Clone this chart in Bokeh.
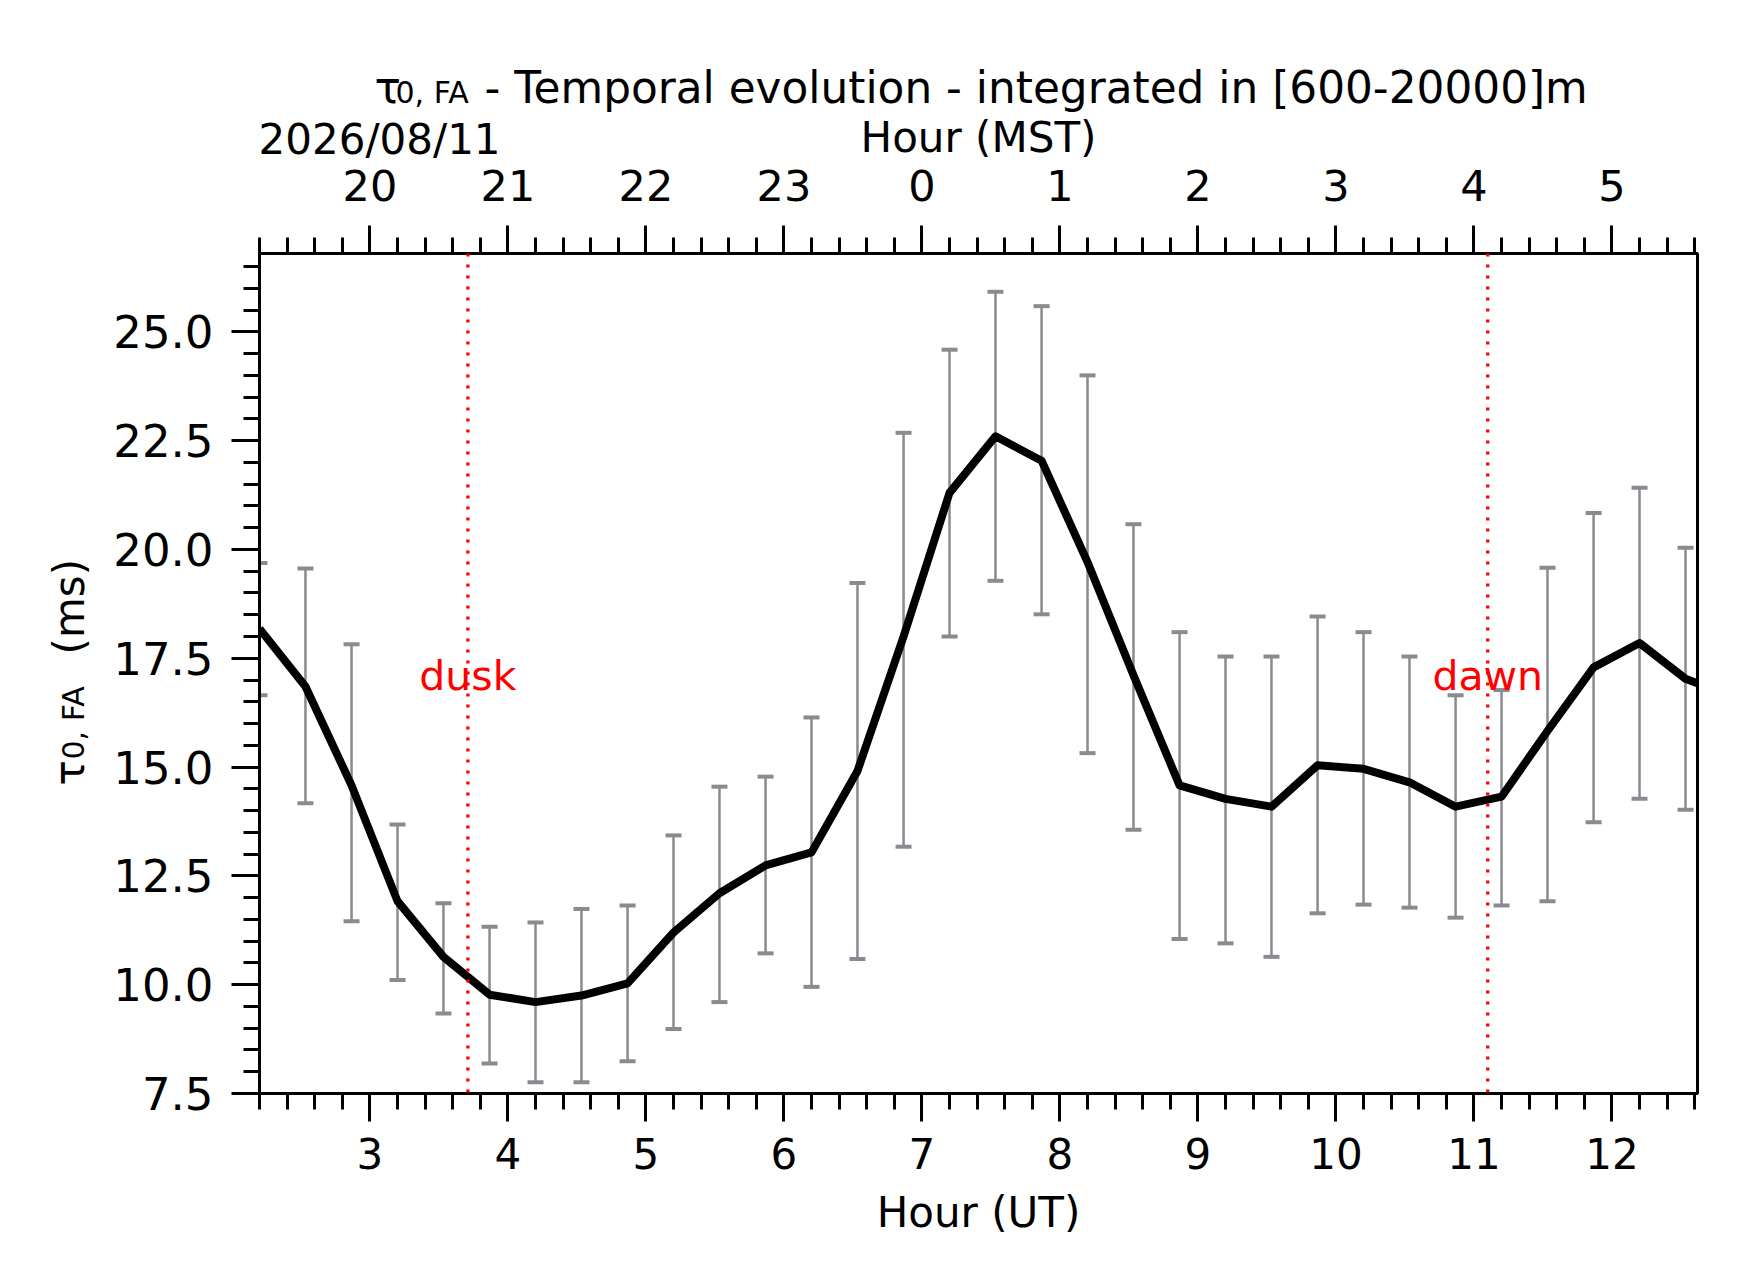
import math
from bokeh.plotting import figure
from bokeh.models import (Range1d, LinearAxis, FixedTicker, Span, Label,
                          PrintfTickFormatter, GridBox)
from bokeh.embed import file_html
from bokeh.resources import INLINE

# ---------------- data ----------------
hour_ut = [2.200, 2.533, 2.867, 3.200, 3.533, 3.867, 4.200, 4.533, 4.867, 5.200,
           5.533, 5.867, 6.200, 6.533, 6.867, 7.200, 7.533, 7.867, 8.200, 8.533,
           8.867, 9.200, 9.533, 9.867, 10.200, 10.533, 10.867, 11.200, 11.533, 11.867,
           12.200, 12.533, 12.867]
tau_ms = [18.18, 16.85, 14.58, 11.92, 10.64, 9.77, 9.60, 9.75, 10.03, 11.20,
          12.10, 12.74, 13.04, 14.91, 18.00, 21.30, 22.60, 22.04, 19.71, 17.11,
          14.58, 14.27, 14.09, 15.04, 14.96, 14.65, 14.09, 14.32, 15.83, 17.29,
          17.85, 17.03, 16.62]
tau_upper = [19.69, 19.56, 17.82, 13.68, 11.87, 11.33, 11.43, 11.74, 11.82, 13.43,
             14.55, 14.78, 16.14, 19.23, 22.68, 24.59, 25.92, 25.59, 24.00, 20.58,
             18.10, 17.54, 17.54, 18.46, 18.10, 17.54, 16.65, 16.77, 19.58, 20.84,
             21.42, 20.04]
tau_lower = [16.65, 14.17, 11.46, 10.11, 9.34, 8.19, 7.76, 7.76, 8.24, 8.98,
             9.60, 10.72, 9.95, 10.59, 13.17, 18.00, 19.28, 18.51, 15.32, 13.56,
             11.05, 10.95, 10.64, 11.64, 11.84, 11.77, 11.54, 11.82, 11.92, 13.73,
             14.27, 14.02]
err_hour = hour_ut[:len(tau_upper)]

dusk_ut = 3.71
dawn_ut = 11.10
dusk_label = "dusk"
dawn_label = "dawn"
text_y = 17.1

ut_major = [3, 4, 5, 6, 7, 8, 9, 10, 11, 12]
mst_labels = ["20", "21", "22", "23", "0", "1", "2", "3", "4", "5"]
ut_minor = [round(2.2 + 0.2 * i, 2) for i in range(53)]
y_major = [7.5, 10.0, 12.5, 15.0, 17.5, 20.0, 22.5, 25.0]
y_minor = [7.5 + 0.5 * i for i in range(39)]

x_lim = (2.2, 12.62)
y_lim = (7.5, 26.8)

date_text = "2026/08/11"
title_rest = "- Temporal evolution - integrated in [600-20000]m"

# ---------------- layout ----------------
W, H = 1726, 1266
L, T = 259, 253
FW, FH = 1438, 840
R, B = W - L - FW, H - T - FH
FONT = "DejaVu Sans"
GRAY = "#898b90"

p = figure(width=W, height=H, output_backend="svg", toolbar_location=None,
           x_range=Range1d(*x_lim), y_range=Range1d(*y_lim),
           min_border_left=L, min_border_right=R, min_border_top=T, min_border_bottom=B,
           background_fill_color="white", border_fill_color="white")
p.grid.visible = False
p.outline_line_color = "black"
p.outline_line_width = 3
p.outline_line_alpha = 1.0


def style_axis(ax, tick_fs, label_fs="42px"):
    ax.axis_line_width = 3
    ax.axis_line_color = "black"
    ax.major_tick_line_width = 3
    ax.minor_tick_line_width = 3
    ax.major_tick_line_color = "black"
    ax.minor_tick_line_color = "black"
    ax.major_tick_out = 28
    ax.major_tick_in = 0
    ax.minor_tick_out = 16
    ax.minor_tick_in = 0
    ax.major_label_text_font = FONT
    ax.major_label_text_font_size = tick_fs
    ax.major_label_text_color = "black"
    ax.axis_label_text_font = FONT
    ax.axis_label_text_font_size = label_fs
    ax.axis_label_text_font_style = "normal"
    ax.axis_label_text_color = "black"


xa = p.xaxis[0]
xa.ticker = FixedTicker(ticks=ut_major, minor_ticks=ut_minor)
xa.axis_label = "Hour (UT)"
style_axis(xa, "42px")
xa.major_label_standoff = 16
xa.axis_label_standoff = 16

ya = p.yaxis[0]
ya.ticker = FixedTicker(ticks=y_major, minor_ticks=y_minor)
ya.formatter = PrintfTickFormatter(format="%.1f")
style_axis(ya, "45px")
ya.major_label_standoff = 18

top = LinearAxis(ticker=FixedTicker(ticks=ut_major, minor_ticks=ut_minor),
                 major_label_overrides=dict(zip(ut_major, mst_labels)),
                 axis_label="Hour (MST)")
style_axis(top, "43px")
top.major_label_standoff = 25
top.axis_label_standoff = 5
p.add_layout(top, "above")

# ---------------- marks ----------------
p.segment(x0=err_hour, y0=tau_lower, x1=err_hour, y1=tau_upper,
          line_color=GRAY, line_width=2.5)
p.scatter(x=err_hour, y=tau_upper, marker="dash", size=16, line_color=GRAY, line_width=4)
p.scatter(x=err_hour, y=tau_lower, marker="dash", size=16, line_color=GRAY, line_width=4)
p.line(x=hour_ut, y=tau_ms, line_color="black", line_width=8, line_join="round")

for loc, txt in ((dusk_ut, dusk_label), (dawn_ut, dawn_label)):
    p.add_layout(Span(location=loc, dimension="height", line_color="red",
                      line_width=3.3, line_dash="3 8"))
    p.add_layout(Label(x=loc, y=text_y, text=txt, text_align="center",
                       text_baseline="alphabetic", text_color="red",
                       text_font=FONT, text_font_size="41px"))

# ---------------- transparent overlay: texts outside the frame ----------------
# its frame is aligned with the main frame; labels live in its side panels
ov = figure(width=W, height=H, output_backend="svg", toolbar_location=None,
            x_range=Range1d(*x_lim), y_range=Range1d(*y_lim),
            x_axis_location=None, y_axis_location=None,
            min_border_left=L, min_border_right=R, min_border_top=T, min_border_bottom=B,
            background_fill_alpha=0, border_fill_alpha=0)
ov.title.visible = False
ov.grid.visible = False
ov.outline_line_color = None

sx = FW / (x_lim[1] - x_lim[0])
sy = FH / (y_lim[1] - y_lim[0])


def dx(cx):
    return x_lim[0] + (cx - L) / sx


def dy(cy):
    return y_lim[0] + (T + FH - cy) / sy


def lab(side, cx, cy, text, size="42px", angle=0.0):
    ov.add_layout(Label(x=dx(cx), y=dy(cy), text=text, text_align="left",
                        text_baseline="alphabetic", text_color="black",
                        text_font=FONT, text_font_size=size, angle=angle), side)


# title: tau_{0,FA} - ...
lab("above", 374, 87, "τ", size="43.8px")
lab("above", 395, 91.5, "0, FA", size="30px")
lab("above", 484, 87, title_rest, size="43.8px")
# date
lab("above", 258, 139, date_text)
# y label (rotated)
lab("left", 69, 785, "τ", angle=math.pi / 2)
lab("left", 73, 759, "0, FA", size="30px", angle=math.pi / 2)
lab("left", 69, 654, "(ms)", angle=math.pi / 2)

layout = GridBox(children=[(p, 0, 0), (ov, 0, 0)])
open("out.html", "w").write(file_html(layout, INLINE))
